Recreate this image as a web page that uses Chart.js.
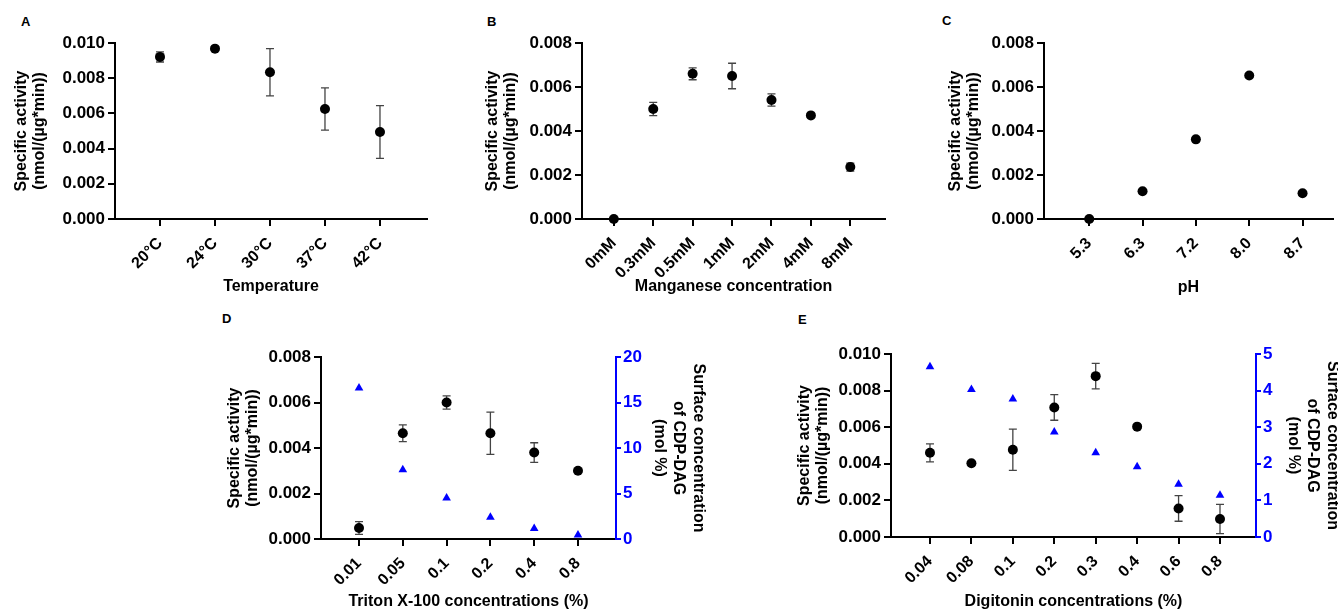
<!DOCTYPE html>
<html>
<head>
<meta charset="utf-8">
<title>Specific activity panels</title>
<script src="https://cdn.jsdelivr.net/npm/chart.js@4.4.1/dist/chart.umd.min.js"></script>
<style>
  html, body { margin: 0; padding: 0; background: #fff; }
  body { position: relative; width: 1338px; height: 611px; overflow: hidden; font-family: "Liberation Sans", Arial, sans-serif; }
  canvas { position: absolute; }
  .panel-label { position: absolute; font-weight: bold; font-size: 13px; line-height: 13px; color: #000; }
</style>
</head>
<body>
<div class="panel-label" style="left:21px;top:15px">A</div>
<div class="panel-label" style="left:487px;top:15px">B</div>
<div class="panel-label" style="left:942px;top:14px">C</div>
<div class="panel-label" style="left:222px;top:312px">D</div>
<div class="panel-label" style="left:798px;top:313px">E</div>

<canvas id="chartA"></canvas>
<canvas id="chartB"></canvas>
<canvas id="chartC"></canvas>
<canvas id="chartD"></canvas>
<canvas id="chartE"></canvas>

<script>
// A - temperature
const tempLabels = ['20°C', '24°C', '30°C', '37°C', '42°C'];
const tempActivity = [0.00921, 0.00968, 0.00834, 0.00625, 0.00494];
const tempSd = [0.00029, 0.00005, 0.00134, 0.0012, 0.0015];

// B - manganese
const mnLabels = ['0mM', '0.3mM', '0.5mM', '1mM', '2mM', '4mM', '8mM'];
const mnActivity = [0.0, 0.0050, 0.0066, 0.0065, 0.00541, 0.00471, 0.00236];
const mnSd = [0, 0.0003, 0.00027, 0.00058, 0.00028, 0.00005, 0.00018];

// C - pH
const phLabels = ['5.3', '6.3', '7.2', '8.0', '8.7'];
const phActivity = [0.0, 0.00126, 0.00362, 0.00652, 0.00117];
const phSd = [0, 0.00003, 0.00003, 0.00003, 0.00008];

// D - Triton X-100
const tritonLabels = ['0.01', '0.05', '0.1', '0.2', '0.4', '0.8'];
const tritonActivity = [0.00048, 0.00465, 0.0060, 0.00465, 0.0038, 0.0030];
const tritonSd = [0.00028, 0.00037, 0.00029, 0.00093, 0.00043, 0.00005];
const tritonCdpDag = [16.6, 7.6, 4.5, 2.4, 1.15, 0.45];

// E - digitonin
const digitoninLabels = ['0.04', '0.08', '0.1', '0.2', '0.3', '0.4', '0.6', '0.8'];
const digitoninActivity = [0.0046, 0.00403, 0.00477, 0.00708, 0.00879, 0.00603, 0.00156, 0.00098];
const digitoninSd = [0.00049, 0.00005, 0.00113, 0.0007, 0.0007, 0.0001, 0.0007, 0.0008];
const digitoninCdpDag = [4.65, 4.03, 3.77, 2.87, 2.30, 1.92, 1.44, 1.14];

const FONT = '"Liberation Sans", Arial, sans-serif';
const BLUE = '#0000ff';
const ERR_COLOR = '#444444';

// draws SD bars behind the points
const errorBarPlugin = {
  id: 'errorBars',
  beforeDatasetsDraw(chart) {
    const ctx = chart.ctx;
    chart.data.datasets.forEach(function(ds, i) {
      if (!ds.errors) return;
      const meta = chart.getDatasetMeta(i);
      const yScale = chart.scales[ds.yAxisID || 'y'];
      ctx.save();
      ctx.strokeStyle = ERR_COLOR;
      ctx.lineWidth = 1.3;
      meta.data.forEach(function(pt, j) {
        const e = ds.errors[j];
        if (!e) return;
        const v = ds.data[j].y;
        const top = yScale.getPixelForValue(v + e);
        const bot = yScale.getPixelForValue(Math.max(v - e, 0));
        ctx.beginPath();
        ctx.moveTo(pt.x, top); ctx.lineTo(pt.x, bot);
        ctx.moveTo(pt.x - 4, top); ctx.lineTo(pt.x + 4, top);
        ctx.moveTo(pt.x - 4, bot); ctx.lineTo(pt.x + 4, bot);
        ctx.stroke();
      });
      ctx.restore();
    });
  }
};

function toPoints(values) {
  return values.map(function(v, i) { return { x: i, y: v }; });
}

function renderPanel(canvasId, g, labels, opts) {
  const canvas = document.getElementById(canvasId);
  canvas.width = g.w;
  canvas.height = g.h;
  canvas.style.left = g.x + 'px';
  canvas.style.top = g.y + 'px';

  const tickFont = { family: FONT, size: 17, weight: 'bold' };
  const xTickFont = { family: FONT, size: 16, weight: 'bold' };
  const titleFont = { family: FONT, size: 16, weight: 'bold', lineHeight: 1.1 };
  const half = 16 * 1.1 / 2;

  const datasets = [{
    data: toPoints(opts.activity),
    errors: opts.sd,
    yAxisID: 'y',
    pointRadius: 5,
    pointHoverRadius: 5,
    pointBackgroundColor: '#000',
    pointBorderWidth: 0,
    showLine: false,
    clip: false
  }];

  const scales = {
    x: {
      type: 'linear',
      min: g.xMin,
      max: g.xMax,
      afterBuildTicks: function(s) { s.ticks = labels.map(function(_, i) { return { value: i }; }); },
      afterFit: function(s) { s.height = g.y + g.h - g.bottom; },
      ticks: {
        autoSkip: false,
        minRotation: 45,
        maxRotation: 45,
        padding: 8,
        color: '#000',
        font: xTickFont,
        callback: function(v) { return labels[v] !== undefined ? labels[v] : ''; }
      },
      grid: { drawOnChartArea: false, drawTicks: true, tickLength: 7, color: '#000', lineWidth: 2 },
      border: { display: true, color: '#000', width: 2 },
      title: {
        display: true,
        text: opts.xTitle,
        color: '#000',
        font: titleFont,
        padding: { top: 0, bottom: g.y + g.h - g.titleY - half }
      }
    },
    y: {
      position: 'left',
      min: 0,
      max: opts.yMax,
      afterFit: function(s) { s.width = g.left - g.x; },
      ticks: {
        stepSize: opts.yStep,
        padding: 3,
        color: '#000',
        font: tickFont,
        callback: function(v) { return v.toFixed(3); }
      },
      grid: { drawOnChartArea: false, drawTicks: true, tickLength: 7, color: '#000', lineWidth: 2 },
      border: { display: true, color: '#000', width: 2 },
      title: {
        display: true,
        text: ['Specific activity', '(nmol/(µg*min))'],
        color: '#000',
        font: titleFont,
        padding: { top: g.titleX - g.x - half, bottom: 0 }
      }
    }
  };

  if (opts.surface) {
    const rHalf = 16 * 1.2 / 2;
    datasets.push({
      data: toPoints(opts.surface),
      yAxisID: 'y2',
      pointStyle: 'triangle',
      pointRadius: 5,
      pointHoverRadius: 5,
      pointBackgroundColor: BLUE,
      pointBorderWidth: 0,
      showLine: false,
      clip: false
    });
    scales.y2 = {
      position: 'right',
      min: 0,
      max: opts.rMax,
      afterFit: function(s) { s.width = g.x + g.w - g.right; },
      ticks: { stepSize: opts.rStep, padding: 2, color: BLUE, font: tickFont },
      grid: { drawOnChartArea: false, drawTicks: true, tickLength: 5, color: BLUE, lineWidth: 2 },
      border: { display: true, color: BLUE, width: 2 },
      title: {
        display: true,
        text: ['Surface concentration', 'of CDP-DAG', '(mol %)'],
        color: '#000',
        font: { family: FONT, size: 16, weight: 'bold', lineHeight: 1.2 },
        padding: { top: g.x + g.w - g.rightTitleX - rHalf, bottom: 0 }
      }
    };
  }

  return new Chart(canvas.getContext('2d'), {
    type: 'scatter',
    data: { datasets: datasets },
    options: {
      responsive: false,
      animation: false,
      events: [],
      layout: {
        padding: {
          left: 0,
          top: g.top - g.y,
          right: opts.surface ? 0 : g.x + g.w - g.right,
          bottom: 0
        }
      },
      plugins: { legend: { display: false }, tooltip: { enabled: false } },
      scales: scales
    },
    plugins: [errorBarPlugin]
  });
}

renderPanel('chartA',
  { x: 0, y: 0, w: 440, h: 305, left: 115, right: 427, top: 43, bottom: 219, titleX: 22, titleY: 287, xMin: -0.818, xMax: 4.855 },
  tempLabels,
  { activity: tempActivity, sd: tempSd, yMax: 0.010, yStep: 0.002, xTitle: 'Temperature' });

renderPanel('chartB',
  { x: 440, y: 0, w: 450, h: 305, left: 582, right: 887, top: 43, bottom: 219, titleX: 493, titleY: 287, xMin: -0.807, xMax: 6.88 },
  mnLabels,
  { activity: mnActivity, sd: mnSd, yMax: 0.008, yStep: 0.002, xTitle: 'Manganese concentration' });

renderPanel('chartC',
  { x: 890, y: 0, w: 448, h: 305, left: 1044, right: 1338, top: 43, bottom: 219, titleX: 956, titleY: 288, xMin: -0.848, xMax: 4.571 },
  phLabels,
  { activity: phActivity, sd: phSd, yMax: 0.008, yStep: 0.002, xTitle: 'pH' });

renderPanel('chartD',
  { x: 200, y: 305, w: 510, h: 306, left: 321, right: 616, top: 357, bottom: 539, titleX: 235, titleY: 602, rightTitleX: 698, xMin: -0.868, xMax: 5.868 },
  tritonLabels,
  { activity: tritonActivity, sd: tritonSd, surface: tritonCdpDag, yMax: 0.008, yStep: 0.002, rMax: 20, rStep: 5, xTitle: 'Triton X-100 concentrations (%)' });

renderPanel('chartE',
  { x: 780, y: 305, w: 566, h: 306, left: 891, right: 1256, top: 354, bottom: 537, titleX: 805, titleY: 602, rightTitleX: 1332, xMin: -0.941, xMax: 7.869 },
  digitoninLabels,
  { activity: digitoninActivity, sd: digitoninSd, surface: digitoninCdpDag, yMax: 0.010, yStep: 0.002, rMax: 5, rStep: 1, xTitle: 'Digitonin concentrations (%)' });
</script>
</body>
</html>
